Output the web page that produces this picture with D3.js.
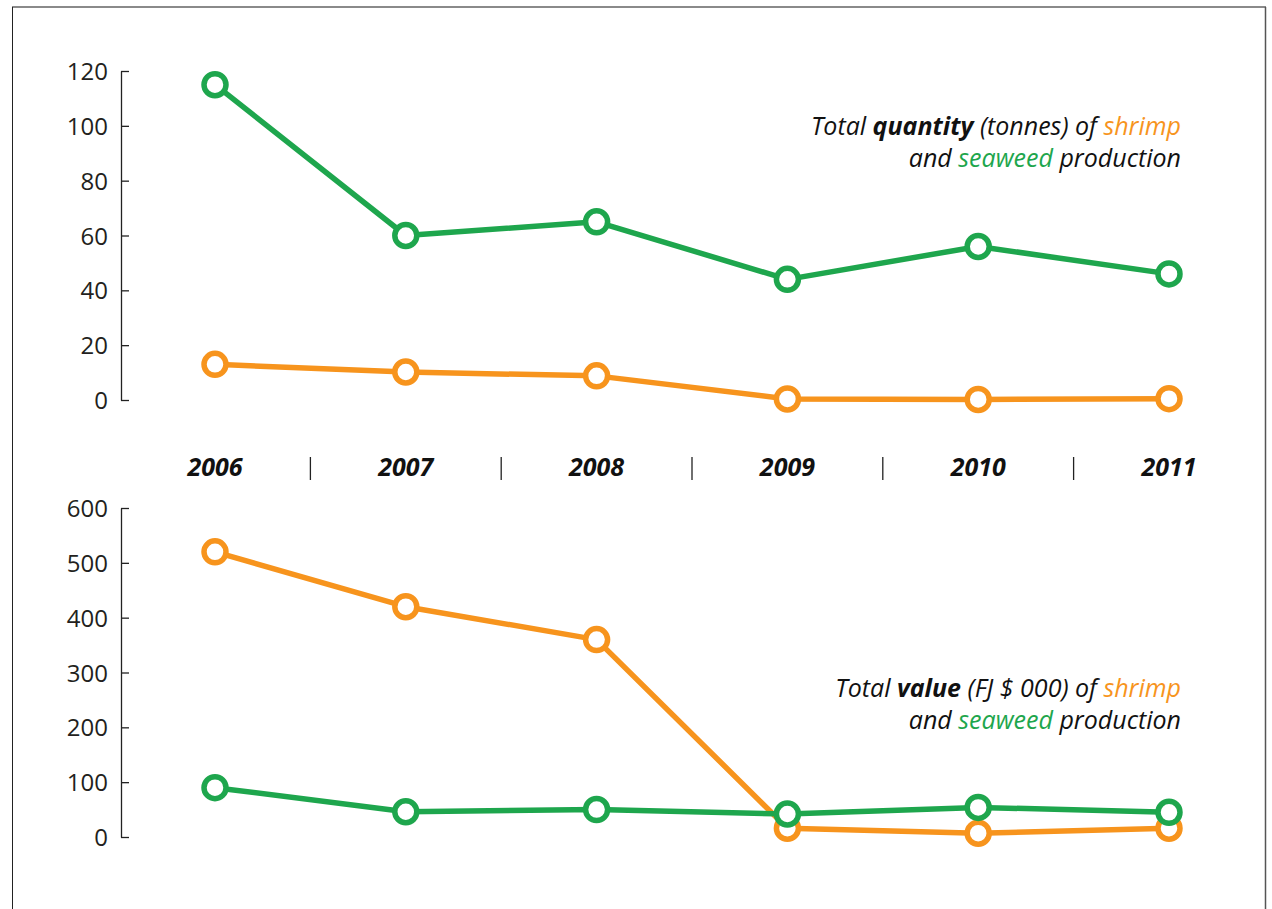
<!DOCTYPE html>
<html><head><meta charset="utf-8">
<script src="https://cdn.jsdelivr.net/npm/d3@7"></script>
<style>
html,body{margin:0;padding:0;background:#fff;}
svg{display:block;}
text{font-family:"Open Sans","Noto Sans",sans-serif;}
</style></head>
<body>
<script>
const years = ["2006","2007","2008","2009","2010","2011"];
const qtyShrimp = [13, 10.2, 8.8, 0.4, 0.2, 0.5];
const qtySeaweed = [115, 60, 65, 44, 56, 46];
const valShrimp = [520, 420, 360, 16, 7, 16];
const valSeaweed = [90, 46, 50, 42, 54, 45];
const qtyTicks = [0, 20, 40, 60, 80, 100, 120];
const valTicks = [0, 100, 200, 300, 400, 500, 600];

const W = 1272, H = 909;
const ORANGE = "#f7941d", GREEN = "#1ea64d";
const svg = d3.select("body").append("svg").attr("width", W).attr("height", H);

// frame
svg.append("line").attr("x1",12).attr("x2",1266).attr("y1",7).attr("y2",7).attr("stroke","#8a8a8a").attr("stroke-width",2);
svg.append("line").attr("x1",12.5).attr("x2",12.5).attr("y1",7).attr("y2",H).attr("stroke","#222").attr("stroke-width",1);
svg.append("line").attr("x1",1265.5).attr("x2",1265.5).attr("y1",7).attr("y2",H).attr("stroke","#555").attr("stroke-width",1.5);

const x = d3.scalePoint().domain(years).range([215, 1169]);
const axisX = 121;

function panel(yRange, domain, ticks, shrimp, seaweed, boldWord, rest, textY) {
  const y = d3.scaleLinear().domain(domain).range(yRange);
  const g = svg.append("g").attr("transform", `translate(${axisX},0)`);
  const ax = d3.axisRight(y).tickValues(ticks).tickSize(8).tickSizeOuter(0).tickFormat(d3.format("d"));
  g.call(ax);
  g.select(".domain").attr("stroke","#222").attr("stroke-width",1.3);
  g.selectAll(".tick line").attr("stroke","#222").attr("stroke-width",1.3);
  g.selectAll(".tick text").attr("x",-13).attr("text-anchor","end").attr("dy","0.36em")
    .attr("font-size",24).attr("fill","#231f20").attr("font-family","'Open Sans',sans-serif");

  const line = d3.line().x((d,i)=>x(years[i])).y(d=>y(d));
  [[shrimp, ORANGE],[seaweed, GREEN]].forEach(([vals,col])=>{
    svg.append("path").datum(vals).attr("d",line).attr("fill","none")
      .attr("stroke",col).attr("stroke-width",5.5).attr("stroke-linejoin","round");
    svg.selectAll(null).data(vals).enter().append("circle")
      .attr("cx",(d,i)=>x(years[i])).attr("cy",d=>y(d)).attr("r",11)
      .attr("fill","#fff").attr("stroke",col).attr("stroke-width",5.5);
  });

  const t1 = svg.append("text").attr("x",1181).attr("y",textY).attr("text-anchor","end")
    .attr("font-size",25).attr("font-style","italic").attr("fill","#111");
  t1.append("tspan").text("Total ");
  t1.append("tspan").attr("font-weight","bold").text(boldWord);
  t1.append("tspan").text(rest);
  t1.append("tspan").attr("fill",ORANGE).text("shrimp");
  const t2 = svg.append("text").attr("x",1181).attr("y",textY+32).attr("text-anchor","end")
    .attr("font-size",25).attr("font-style","italic").attr("fill","#111");
  t2.append("tspan").text("and ");
  t2.append("tspan").attr("fill",GREEN).text("seaweed");
  t2.append("tspan").text(" production");
}

panel([400, 71], [0, 120], qtyTicks, qtyShrimp, qtySeaweed, "quantity", " (tonnes) of ", 135);
panel([837, 508], [0, 600], valTicks, valShrimp, valSeaweed, "value", " (FJ $ 000) of ", 697);

// year labels
svg.selectAll(null).data(years).enter().append("text")
  .attr("x",d=>x(d)).attr("y",476).attr("text-anchor","middle")
  .attr("font-size",25).attr("font-weight","bold").attr("font-style","italic").attr("fill","#111")
  .text(d=>d);
const seps = years.slice(1).map((d,i)=>(x(years[i])+x(d))/2);
svg.selectAll(null).data(seps).enter().append("line")
  .attr("x1",d=>d).attr("x2",d=>d).attr("y1",457).attr("y2",480)
  .attr("stroke","#222").attr("stroke-width",1.3);
</script>
</body></html>
